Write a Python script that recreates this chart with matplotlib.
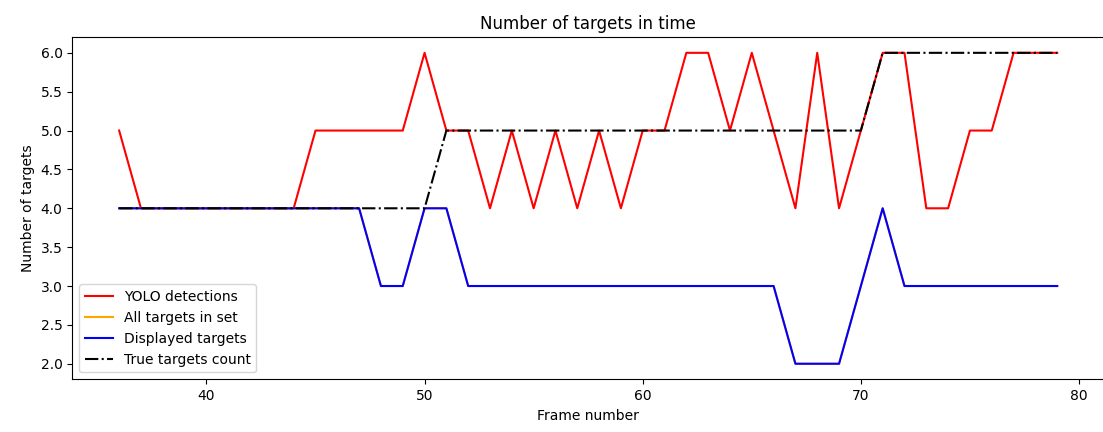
import matplotlib.pyplot as plt

# frame numbers 36..79
frames = list(range(36, 80))

yolo = [5, 4, 4, 4, 4, 4, 4, 4, 4, 5, 5, 5, 5, 5, 6, 5, 5, 4, 5, 4, 5, 4,
        5, 4, 5, 5, 6, 6, 5, 6, 5, 4, 6, 4, 5, 6, 6, 4, 4, 5, 5, 6, 6, 6]
displayed = [4, 4, 4, 4, 4, 4, 4, 4, 4, 4, 4, 4, 3, 3, 4, 4, 3, 3, 3, 3, 3, 3,
             3, 3, 3, 3, 3, 3, 3, 3, 3, 2, 2, 2, 3, 4, 3, 3, 3, 3, 3, 3, 3, 3]
# all targets in set is hidden under the displayed line
all_in_set = list(displayed)
true_count = [4, 4, 4, 4, 4, 4, 4, 4, 4, 4, 4, 4, 4, 4, 4, 5, 5, 5, 5, 5, 5, 5,
              5, 5, 5, 5, 5, 5, 5, 5, 5, 5, 5, 5, 5, 6, 6, 6, 6, 6, 6, 6, 6, 6]

fig, ax = plt.subplots(figsize=(11.03, 4.32), dpi=100)
fig.subplots_adjust(left=0.0655, right=1.001, top=0.9137, bottom=0.122)

ax.plot(frames, yolo, color='red', label='YOLO detections')
ax.plot(frames, all_in_set, color='orange', label='All targets in set')
ax.plot(frames, displayed, color='blue', label='Displayed targets')
ax.plot(frames, true_count, color='black', linestyle='-.', label='True targets count')

ax.set_title('Number of targets in time')
ax.set_xlabel('Frame number')
ax.set_ylabel('Number of targets')
ax.legend(loc='lower left')

fig.savefig('out.png')
